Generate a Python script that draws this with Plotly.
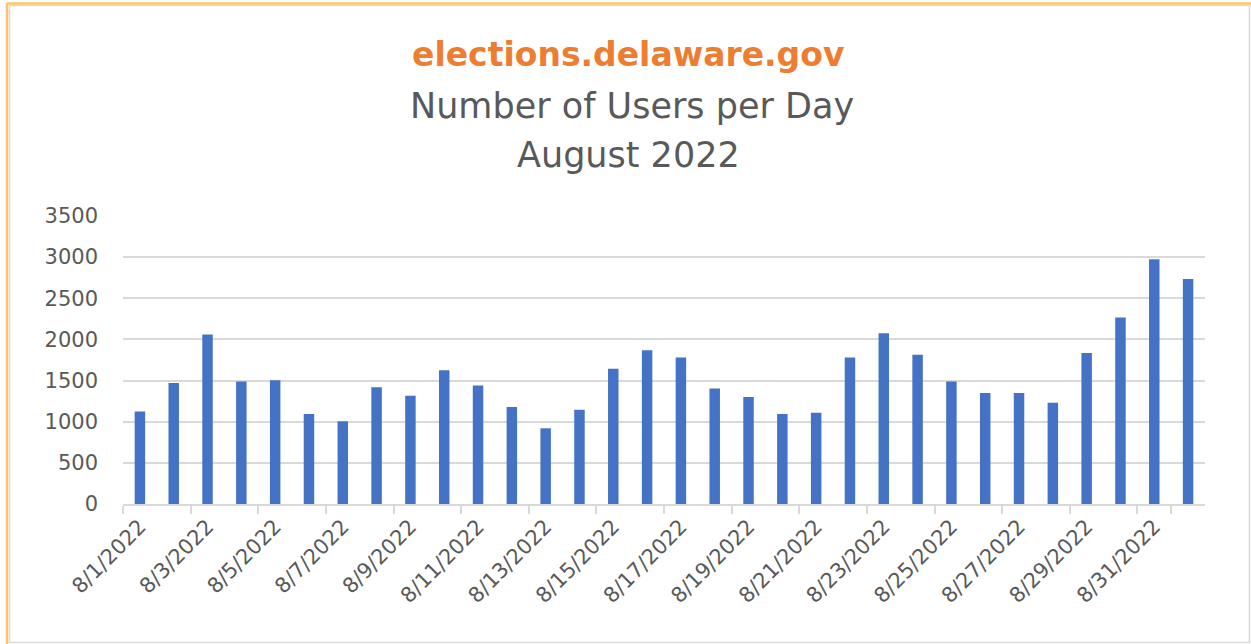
import plotly.graph_objects as go

dates = [f"8/{d}/2022" for d in range(1, 32)] + ["9/1/2022"]
users = [1125, 1470, 2060, 1490, 1505, 1095, 1005, 1420, 1315, 1625, 1440, 1180,
         920, 1145, 1645, 1870, 1780, 1405, 1300, 1095, 1110, 1780, 2075, 1815,
         1490, 1350, 1350, 1230, 1835, 2265, 2975, 2735]
tick_labels = dates[::2]
y_ticks = [0, 500, 1000, 1500, 2000, 2500, 3000, 3500]

title_site = "elections.delaware.gov"
title_main = "Number of Users per Day"
title_month = "August 2022"

W, H = 1251, 644
ML, MR, MT, MB = 123, 46, 216, 140
PW, PH = W - ML - MR, H - MT - MB

def px(x):
    return (x - ML) / PW

def py(y):
    return (H - MB - y) / PH

FONT = "DejaVu Sans"
GRAY = "#595959"

fig = go.Figure(go.Bar(x=dates, y=users, marker=dict(color="#4472C4", line=dict(width=0))))

fig.update_layout(
    width=W, height=H,
    margin=dict(l=ML, r=MR, t=MT, b=MB, autoexpand=False),
    paper_bgcolor="white", plot_bgcolor="white",
    bargap=0.69, showlegend=False,
    font=dict(family=FONT, color=GRAY),
)
fig.update_xaxes(
    type="category", tickmode="array", tickvals=tick_labels, ticktext=tick_labels,
    tickson="boundaries", ticks="outside", ticklen=8, tickcolor="#D9D9D9", tickwidth=2,
    tickangle=-45, tickfont=dict(size=21, color=GRAY, family=FONT),
    showline=True, linecolor="#D9D9D9", linewidth=2, showgrid=False,
    range=[-0.5, len(dates) - 0.5],
)
fig.update_yaxes(
    range=[0, 3500], tickvals=y_ticks, showgrid=True, gridcolor="#D9D9D9", gridwidth=1.6,
    zeroline=False, showline=False, ticks="", ticklabelstandoff=24,
    tickfont=dict(size=21, color=GRAY, family=FONT),
)

fig.add_annotation(text=f"<b>{title_site}</b>", xref="paper", yref="paper",
                   x=px(628), y=py(54), showarrow=False, xanchor="center", yanchor="middle",
                   font=dict(size=33, color="#ED7D31", family=FONT))
fig.add_annotation(text=title_main, xref="paper", yref="paper",
                   x=px(632), y=py(106), showarrow=False, xanchor="center", yanchor="middle",
                   font=dict(size=35, color=GRAY, family=FONT))
fig.add_annotation(text=title_month, xref="paper", yref="paper",
                   x=px(628), y=py(155), showarrow=False, xanchor="center", yanchor="middle",
                   font=dict(size=35, color=GRAY, family=FONT))

# chart frame
fig.add_shape(type="rect", xref="paper", yref="paper",
              x0=px(9.5), x1=px(1249.5), y0=py(642.5), y1=py(5.5),
              line=dict(color="#D9D9D9", width=1.5), layer="below")
fig.add_shape(type="line", xref="paper", yref="paper",
              x0=px(7), x1=px(7), y0=py(644), y1=py(3),
              line=dict(color="#FFC46B", width=2.5))
fig.add_shape(type="line", xref="paper", yref="paper",
              x0=px(7), x1=px(1251), y0=py(3.5), y1=py(3.5),
              line=dict(color="#FFC46B", width=2.5))

fig.write_html("out.html", config={"displayModeBar": False},
               post_script="document.body.style.margin='0';document.body.style.overflow='hidden';")
